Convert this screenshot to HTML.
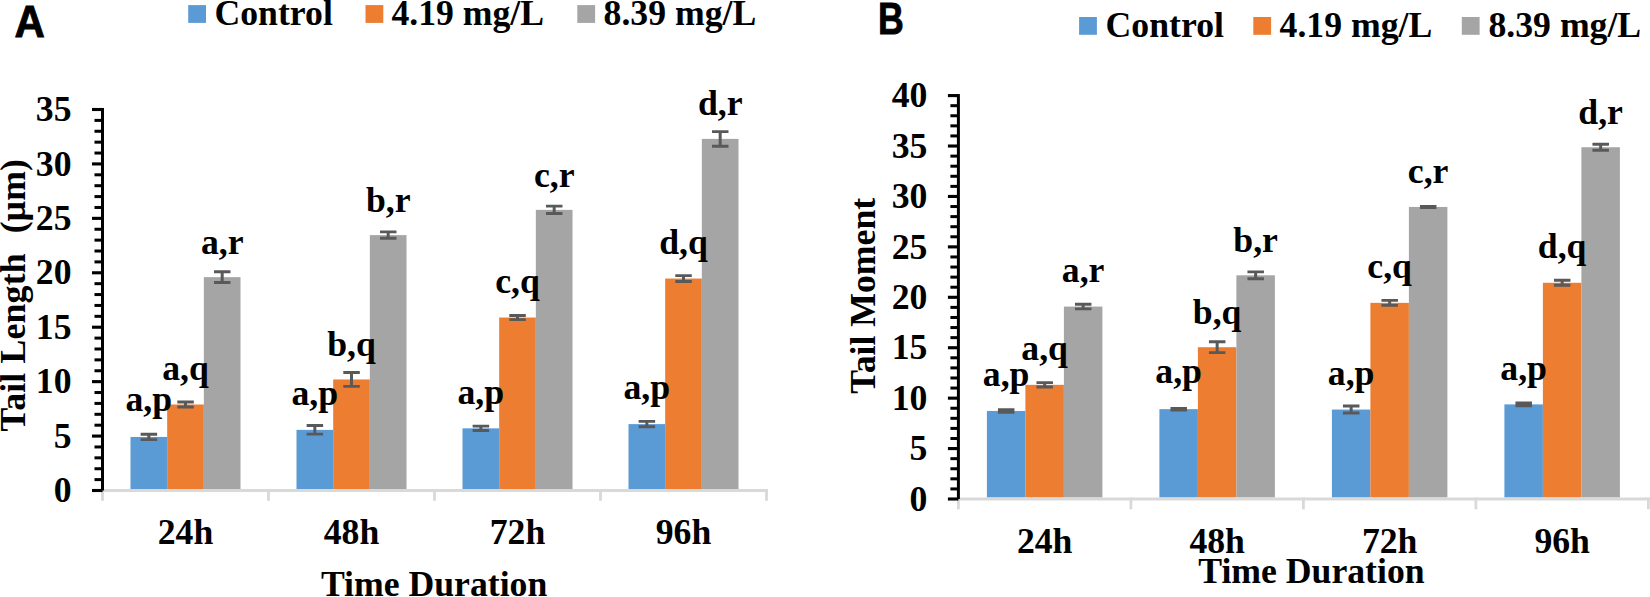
<!DOCTYPE html>
<html lang="en">
<head>
<meta charset="utf-8">
<title>Tail Length and Tail Moment</title>
<style>
html,body{margin:0;padding:0;background:#fff;}
body{width:1650px;height:597px;overflow:hidden;}
svg{display:block;}
svg text{font-family:"Liberation Serif","Times New Roman",serif;font-weight:bold;font-size:35.7px;fill:#000;}
svg text.panel{font-family:"Liberation Sans","Arial",sans-serif;font-weight:bold;font-size:45.2px;stroke:#000;stroke-width:0.9px;stroke-linejoin:miter;}
</style>
</head>
<body>
<svg width="1650" height="597" viewBox="0 0 1650 597">
<rect width="1650" height="597" fill="#fff"/>
<!-- Panel A -->
<g id="chartA">
<rect x="130.50" y="436.94" width="36.67" height="52.06" fill="#5b9bd5"/>
<rect x="167.17" y="404.50" width="36.67" height="84.50" fill="#ed7d31"/>
<rect x="203.84" y="277.14" width="36.67" height="211.86" fill="#a5a5a5"/>
<rect x="296.50" y="429.87" width="36.67" height="59.13" fill="#5b9bd5"/>
<rect x="333.17" y="379.47" width="36.67" height="109.53" fill="#ed7d31"/>
<rect x="369.84" y="235.12" width="36.67" height="253.88" fill="#a5a5a5"/>
<rect x="462.50" y="428.34" width="36.67" height="60.66" fill="#5b9bd5"/>
<rect x="499.17" y="317.53" width="36.67" height="171.47" fill="#ed7d31"/>
<rect x="535.84" y="209.87" width="36.67" height="279.13" fill="#a5a5a5"/>
<rect x="628.50" y="424.10" width="36.67" height="64.90" fill="#5b9bd5"/>
<rect x="665.17" y="278.56" width="36.67" height="210.44" fill="#ed7d31"/>
<rect x="701.84" y="138.89" width="36.67" height="350.11" fill="#a5a5a5"/>
<rect x="101.00" y="489.00" width="667.00" height="3" fill="#d9d9d9"/>
<rect x="101.10" y="489.00" width="2.8" height="11.8" fill="#d9d9d9"/>
<rect x="267.10" y="489.00" width="2.8" height="11.8" fill="#d9d9d9"/>
<rect x="433.10" y="489.00" width="2.8" height="11.8" fill="#d9d9d9"/>
<rect x="599.10" y="489.00" width="2.8" height="11.8" fill="#d9d9d9"/>
<rect x="765.10" y="489.00" width="2.8" height="11.8" fill="#d9d9d9"/>
<rect x="101.00" y="108.00" width="3" height="382.50" fill="#000"/>
<rect x="92.00" y="488.95" width="10.5" height="3.1" fill="#000"/>
<rect x="94.50" y="478.11" width="8" height="3" fill="#000"/>
<rect x="94.50" y="467.23" width="8" height="3" fill="#000"/>
<rect x="94.50" y="456.34" width="8" height="3" fill="#000"/>
<rect x="94.50" y="445.46" width="8" height="3" fill="#000"/>
<rect x="92.00" y="434.52" width="10.5" height="3.1" fill="#000"/>
<rect x="94.50" y="423.69" width="8" height="3" fill="#000"/>
<rect x="94.50" y="412.80" width="8" height="3" fill="#000"/>
<rect x="94.50" y="401.91" width="8" height="3" fill="#000"/>
<rect x="94.50" y="391.03" width="8" height="3" fill="#000"/>
<rect x="92.00" y="380.09" width="10.5" height="3.1" fill="#000"/>
<rect x="94.50" y="369.26" width="8" height="3" fill="#000"/>
<rect x="94.50" y="358.37" width="8" height="3" fill="#000"/>
<rect x="94.50" y="347.49" width="8" height="3" fill="#000"/>
<rect x="94.50" y="336.60" width="8" height="3" fill="#000"/>
<rect x="92.00" y="325.66" width="10.5" height="3.1" fill="#000"/>
<rect x="94.50" y="314.83" width="8" height="3" fill="#000"/>
<rect x="94.50" y="303.94" width="8" height="3" fill="#000"/>
<rect x="94.50" y="293.06" width="8" height="3" fill="#000"/>
<rect x="94.50" y="282.17" width="8" height="3" fill="#000"/>
<rect x="92.00" y="271.24" width="10.5" height="3.1" fill="#000"/>
<rect x="94.50" y="260.40" width="8" height="3" fill="#000"/>
<rect x="94.50" y="249.51" width="8" height="3" fill="#000"/>
<rect x="94.50" y="238.63" width="8" height="3" fill="#000"/>
<rect x="94.50" y="227.74" width="8" height="3" fill="#000"/>
<rect x="92.00" y="216.81" width="10.5" height="3.1" fill="#000"/>
<rect x="94.50" y="205.97" width="8" height="3" fill="#000"/>
<rect x="94.50" y="195.09" width="8" height="3" fill="#000"/>
<rect x="94.50" y="184.20" width="8" height="3" fill="#000"/>
<rect x="94.50" y="173.31" width="8" height="3" fill="#000"/>
<rect x="92.00" y="162.38" width="10.5" height="3.1" fill="#000"/>
<rect x="94.50" y="151.54" width="8" height="3" fill="#000"/>
<rect x="94.50" y="140.66" width="8" height="3" fill="#000"/>
<rect x="94.50" y="129.77" width="8" height="3" fill="#000"/>
<rect x="94.50" y="118.89" width="8" height="3" fill="#000"/>
<rect x="92.00" y="107.95" width="10.5" height="3.1" fill="#000"/>
<path d="M140.64 434.24H157.14M140.64 439.64H157.14" stroke="#595959" stroke-width="2.9" fill="none"/><path d="M148.84 434.24V439.64" stroke="#595959" stroke-width="3" fill="none"/>
<path d="M177.31 402.00H193.81M177.31 407.00H193.81" stroke="#595959" stroke-width="2.9" fill="none"/><path d="M185.51 402.00V407.00" stroke="#595959" stroke-width="3" fill="none"/>
<path d="M213.98 271.74H230.48M213.98 282.54H230.48" stroke="#595959" stroke-width="2.9" fill="none"/><path d="M222.18 271.74V282.54" stroke="#595959" stroke-width="3" fill="none"/>
<path d="M306.63 425.57H323.13M306.63 434.17H323.13" stroke="#595959" stroke-width="2.9" fill="none"/><path d="M314.83 425.57V434.17" stroke="#595959" stroke-width="3" fill="none"/>
<path d="M343.31 372.57H359.81M343.31 386.37H359.81" stroke="#595959" stroke-width="2.9" fill="none"/><path d="M351.50 372.57V386.37" stroke="#595959" stroke-width="3" fill="none"/>
<path d="M379.98 231.92H396.48M379.98 238.32H396.48" stroke="#595959" stroke-width="2.9" fill="none"/><path d="M388.18 231.92V238.32" stroke="#595959" stroke-width="3" fill="none"/>
<path d="M472.63 426.14H489.13M472.63 430.54H489.13" stroke="#595959" stroke-width="2.9" fill="none"/><path d="M480.83 426.14V430.54" stroke="#595959" stroke-width="3" fill="none"/>
<path d="M509.31 315.43H525.80M509.31 319.63H525.80" stroke="#595959" stroke-width="2.9" fill="none"/><path d="M517.50 315.43V319.63" stroke="#595959" stroke-width="3" fill="none"/>
<path d="M545.98 206.17H562.48M545.98 213.57H562.48" stroke="#595959" stroke-width="2.9" fill="none"/><path d="M554.18 206.17V213.57" stroke="#595959" stroke-width="3" fill="none"/>
<path d="M638.63 421.40H655.13M638.63 426.80H655.13" stroke="#595959" stroke-width="2.9" fill="none"/><path d="M646.84 421.40V426.80" stroke="#595959" stroke-width="3" fill="none"/>
<path d="M675.30 275.66H691.80M675.30 281.46H691.80" stroke="#595959" stroke-width="2.9" fill="none"/><path d="M683.50 275.66V281.46" stroke="#595959" stroke-width="3" fill="none"/>
<path d="M711.98 131.59H728.48M711.98 146.19H728.48" stroke="#595959" stroke-width="2.9" fill="none"/><path d="M720.18 131.59V146.19" stroke="#595959" stroke-width="3" fill="none"/>
<text x="71.50" y="502.20" text-anchor="end">0</text>
<text x="71.50" y="447.77" text-anchor="end">5</text>
<text x="71.50" y="393.34" text-anchor="end">10</text>
<text x="71.50" y="338.91" text-anchor="end">15</text>
<text x="71.50" y="284.49" text-anchor="end">20</text>
<text x="71.50" y="230.06" text-anchor="end">25</text>
<text x="71.50" y="175.63" text-anchor="end">30</text>
<text x="71.50" y="121.20" text-anchor="end">35</text>
<text x="148.84" y="411.30" text-anchor="middle">a,p</text>
<text x="185.51" y="380.20" text-anchor="middle">a,q</text>
<text x="222.18" y="253.70" text-anchor="middle">a,r</text>
<text x="314.83" y="404.70" text-anchor="middle">a,p</text>
<text x="351.50" y="355.70" text-anchor="middle">b,q</text>
<text x="388.18" y="212.20" text-anchor="middle">b,r</text>
<text x="480.83" y="404.20" text-anchor="middle">a,p</text>
<text x="517.50" y="293.20" text-anchor="middle">c,q</text>
<text x="554.18" y="187.20" text-anchor="middle">c,r</text>
<text x="646.84" y="398.60" text-anchor="middle">a,p</text>
<text x="683.50" y="254.20" text-anchor="middle">d,q</text>
<text x="720.18" y="114.60" text-anchor="middle">d,r</text>
<text x="185.50" y="544.30" text-anchor="middle">24h</text>
<text x="351.50" y="544.30" text-anchor="middle">48h</text>
<text x="517.50" y="544.30" text-anchor="middle">72h</text>
<text x="683.50" y="544.30" text-anchor="middle">96h</text>
<text x="434.1" y="595.7" text-anchor="middle">Time Duration</text>
<text transform="translate(24.9,431.6) rotate(-90)" xml:space="preserve" style="letter-spacing:0.2px">Tail Length  <tspan dx="1.7" style="letter-spacing:0">(µm)</tspan></text>
<rect x="188.20" y="5.10" width="17.8" height="17.8" fill="#5b9bd5"/>
<text x="214.50" y="24.50">Control</text>
<rect x="365.50" y="5.10" width="17.8" height="17.8" fill="#ed7d31"/>
<text x="391.40" y="24.50">4.19 mg/L</text>
<rect x="577.30" y="5.10" width="17.8" height="17.8" fill="#a5a5a5"/>
<text x="603.60" y="24.50">8.39 mg/L</text>
<text class="panel" transform="translate(14.6,37.45) scale(0.93,1)">A</text>
</g>
<!-- Panel B -->
<g id="chartB">
<rect x="986.90" y="410.96" width="38.50" height="86.54" fill="#5b9bd5"/>
<rect x="1025.40" y="384.84" width="38.50" height="112.66" fill="#ed7d31"/>
<rect x="1063.90" y="306.58" width="38.50" height="190.92" fill="#a5a5a5"/>
<rect x="1159.40" y="409.14" width="38.50" height="88.36" fill="#5b9bd5"/>
<rect x="1197.90" y="347.22" width="38.50" height="150.28" fill="#ed7d31"/>
<rect x="1236.40" y="275.31" width="38.50" height="222.19" fill="#a5a5a5"/>
<rect x="1331.90" y="409.55" width="38.50" height="87.95" fill="#5b9bd5"/>
<rect x="1370.40" y="302.85" width="38.50" height="194.65" fill="#ed7d31"/>
<rect x="1408.90" y="206.94" width="38.50" height="290.56" fill="#a5a5a5"/>
<rect x="1504.40" y="404.40" width="38.50" height="93.10" fill="#5b9bd5"/>
<rect x="1542.90" y="282.78" width="38.50" height="214.72" fill="#ed7d31"/>
<rect x="1581.40" y="147.24" width="38.50" height="350.26" fill="#a5a5a5"/>
<rect x="956.90" y="497.50" width="693.00" height="3" fill="#d9d9d9"/>
<rect x="957.00" y="497.50" width="2.8" height="11.8" fill="#d9d9d9"/>
<rect x="1129.50" y="497.50" width="2.8" height="11.8" fill="#d9d9d9"/>
<rect x="1302.00" y="497.50" width="2.8" height="11.8" fill="#d9d9d9"/>
<rect x="1474.50" y="497.50" width="2.8" height="11.8" fill="#d9d9d9"/>
<rect x="1647.00" y="497.50" width="2.8" height="11.8" fill="#d9d9d9"/>
<rect x="956.90" y="94.10" width="3" height="404.90" fill="#000"/>
<rect x="947.90" y="497.45" width="10.5" height="3.1" fill="#000"/>
<rect x="950.40" y="487.42" width="8" height="3" fill="#000"/>
<rect x="950.40" y="477.33" width="8" height="3" fill="#000"/>
<rect x="950.40" y="467.25" width="8" height="3" fill="#000"/>
<rect x="950.40" y="457.16" width="8" height="3" fill="#000"/>
<rect x="947.90" y="447.02" width="10.5" height="3.1" fill="#000"/>
<rect x="950.40" y="436.99" width="8" height="3" fill="#000"/>
<rect x="950.40" y="426.90" width="8" height="3" fill="#000"/>
<rect x="950.40" y="416.82" width="8" height="3" fill="#000"/>
<rect x="950.40" y="406.74" width="8" height="3" fill="#000"/>
<rect x="947.90" y="396.60" width="10.5" height="3.1" fill="#000"/>
<rect x="950.40" y="386.56" width="8" height="3" fill="#000"/>
<rect x="950.40" y="376.48" width="8" height="3" fill="#000"/>
<rect x="950.40" y="366.39" width="8" height="3" fill="#000"/>
<rect x="950.40" y="356.31" width="8" height="3" fill="#000"/>
<rect x="947.90" y="346.18" width="10.5" height="3.1" fill="#000"/>
<rect x="950.40" y="336.14" width="8" height="3" fill="#000"/>
<rect x="950.40" y="326.06" width="8" height="3" fill="#000"/>
<rect x="950.40" y="315.97" width="8" height="3" fill="#000"/>
<rect x="950.40" y="305.88" width="8" height="3" fill="#000"/>
<rect x="947.90" y="295.75" width="10.5" height="3.1" fill="#000"/>
<rect x="950.40" y="285.72" width="8" height="3" fill="#000"/>
<rect x="950.40" y="275.63" width="8" height="3" fill="#000"/>
<rect x="950.40" y="265.55" width="8" height="3" fill="#000"/>
<rect x="950.40" y="255.46" width="8" height="3" fill="#000"/>
<rect x="947.90" y="245.33" width="10.5" height="3.1" fill="#000"/>
<rect x="950.40" y="235.29" width="8" height="3" fill="#000"/>
<rect x="950.40" y="225.21" width="8" height="3" fill="#000"/>
<rect x="950.40" y="215.12" width="8" height="3" fill="#000"/>
<rect x="950.40" y="205.04" width="8" height="3" fill="#000"/>
<rect x="947.90" y="194.90" width="10.5" height="3.1" fill="#000"/>
<rect x="950.40" y="184.87" width="8" height="3" fill="#000"/>
<rect x="950.40" y="174.78" width="8" height="3" fill="#000"/>
<rect x="950.40" y="164.70" width="8" height="3" fill="#000"/>
<rect x="950.40" y="154.61" width="8" height="3" fill="#000"/>
<rect x="947.90" y="144.48" width="10.5" height="3.1" fill="#000"/>
<rect x="950.40" y="134.44" width="8" height="3" fill="#000"/>
<rect x="950.40" y="124.36" width="8" height="3" fill="#000"/>
<rect x="950.40" y="114.27" width="8" height="3" fill="#000"/>
<rect x="950.40" y="104.19" width="8" height="3" fill="#000"/>
<rect x="947.90" y="94.05" width="10.5" height="3.1" fill="#000"/>
<path d="M997.95 409.66H1014.45M997.95 412.26H1014.45" stroke="#595959" stroke-width="2.9" fill="none"/><path d="M1006.15 409.66V412.26" stroke="#595959" stroke-width="3" fill="none"/>
<path d="M1036.45 382.64H1052.95M1036.45 387.04H1052.95" stroke="#595959" stroke-width="2.9" fill="none"/><path d="M1044.65 382.64V387.04" stroke="#595959" stroke-width="3" fill="none"/>
<path d="M1074.95 304.28H1091.45M1074.95 308.88H1091.45" stroke="#595959" stroke-width="2.9" fill="none"/><path d="M1083.15 304.28V308.88" stroke="#595959" stroke-width="3" fill="none"/>
<path d="M1170.45 408.34H1186.95M1170.45 409.94H1186.95" stroke="#595959" stroke-width="2.9" fill="none"/><path d="M1178.65 408.34V409.94" stroke="#595959" stroke-width="3" fill="none"/>
<path d="M1208.95 341.82H1225.45M1208.95 352.62H1225.45" stroke="#595959" stroke-width="2.9" fill="none"/><path d="M1217.15 341.82V352.62" stroke="#595959" stroke-width="3" fill="none"/>
<path d="M1247.45 271.91H1263.95M1247.45 278.71H1263.95" stroke="#595959" stroke-width="2.9" fill="none"/><path d="M1255.65 271.91V278.71" stroke="#595959" stroke-width="3" fill="none"/>
<path d="M1342.95 406.05H1359.45M1342.95 413.05H1359.45" stroke="#595959" stroke-width="2.9" fill="none"/><path d="M1351.15 406.05V413.05" stroke="#595959" stroke-width="3" fill="none"/>
<path d="M1381.45 300.35H1397.95M1381.45 305.35H1397.95" stroke="#595959" stroke-width="2.9" fill="none"/><path d="M1389.65 300.35V305.35" stroke="#595959" stroke-width="3" fill="none"/>
<path d="M1419.95 206.34H1436.45M1419.95 207.54H1436.45" stroke="#595959" stroke-width="2.9" fill="none"/><path d="M1428.15 206.34V207.54" stroke="#595959" stroke-width="3" fill="none"/>
<path d="M1515.45 403.00H1531.95M1515.45 405.80H1531.95" stroke="#595959" stroke-width="2.9" fill="none"/><path d="M1523.65 403.00V405.80" stroke="#595959" stroke-width="3" fill="none"/>
<path d="M1553.95 280.28H1570.45M1553.95 285.28H1570.45" stroke="#595959" stroke-width="2.9" fill="none"/><path d="M1562.15 280.28V285.28" stroke="#595959" stroke-width="3" fill="none"/>
<path d="M1592.45 144.24H1608.95M1592.45 150.24H1608.95" stroke="#595959" stroke-width="2.9" fill="none"/><path d="M1600.65 144.24V150.24" stroke="#595959" stroke-width="3" fill="none"/>
<text x="927.40" y="510.70" text-anchor="end">0</text>
<text x="927.40" y="460.27" text-anchor="end">5</text>
<text x="927.40" y="409.85" text-anchor="end">10</text>
<text x="927.40" y="359.43" text-anchor="end">15</text>
<text x="927.40" y="309.00" text-anchor="end">20</text>
<text x="927.40" y="258.58" text-anchor="end">25</text>
<text x="927.40" y="208.15" text-anchor="end">30</text>
<text x="927.40" y="157.73" text-anchor="end">35</text>
<text x="927.40" y="107.30" text-anchor="end">40</text>
<text x="1006.15" y="385.80" text-anchor="middle">a,p</text>
<text x="1044.65" y="359.80" text-anchor="middle">a,q</text>
<text x="1083.15" y="282.10" text-anchor="middle">a,r</text>
<text x="1178.65" y="383.40" text-anchor="middle">a,p</text>
<text x="1217.15" y="323.80" text-anchor="middle">b,q</text>
<text x="1255.65" y="251.80" text-anchor="middle">b,r</text>
<text x="1351.15" y="384.60" text-anchor="middle">a,p</text>
<text x="1389.65" y="278.20" text-anchor="middle">c,q</text>
<text x="1428.15" y="182.80" text-anchor="middle">c,r</text>
<text x="1523.65" y="379.60" text-anchor="middle">a,p</text>
<text x="1562.15" y="258.20" text-anchor="middle">d,q</text>
<text x="1600.65" y="124.30" text-anchor="middle">d,r</text>
<text x="1044.65" y="552.60" text-anchor="middle">24h</text>
<text x="1217.15" y="552.60" text-anchor="middle">48h</text>
<text x="1389.65" y="552.60" text-anchor="middle">72h</text>
<text x="1562.15" y="552.60" text-anchor="middle">96h</text>
<text x="1311.4" y="583" text-anchor="middle">Time Duration</text>
<text transform="translate(874.6,393.8) rotate(-90)">Tail Moment</text>
<rect x="1079.10" y="17.00" width="17.8" height="17.8" fill="#5b9bd5"/>
<text x="1105.60" y="36.50">Control</text>
<rect x="1253.30" y="17.00" width="17.8" height="17.8" fill="#ed7d31"/>
<text x="1279.60" y="36.50">4.19 mg/L</text>
<rect x="1461.80" y="17.00" width="17.8" height="17.8" fill="#a5a5a5"/>
<text x="1488.50" y="36.50">8.39 mg/L</text>
<text class="panel" transform="translate(878.0,34.25) scale(0.79,1)">B</text>
</g>
</svg>
</body>
</html>
